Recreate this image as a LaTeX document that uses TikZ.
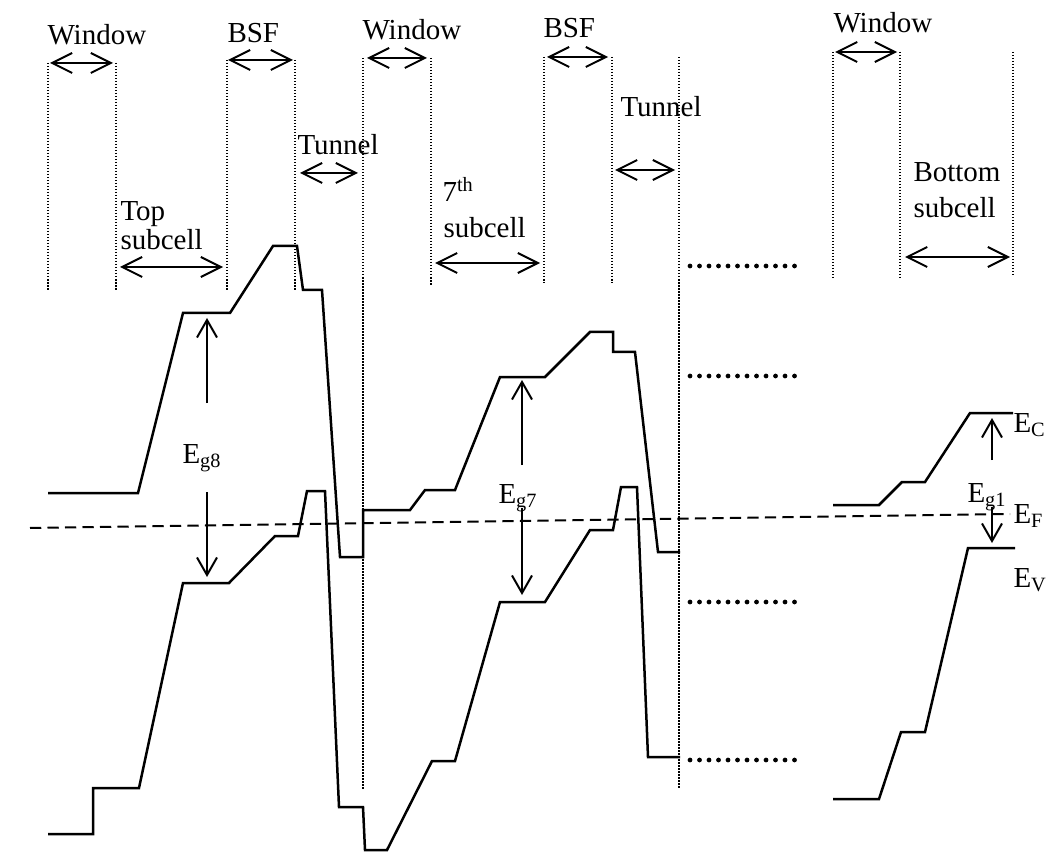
\documentclass[tikz,border=0pt]{standalone}
\usepackage{fontspec}
\setmainfont{Liberation Serif}
\usepackage{tikz}
\usetikzlibrary{arrows.meta}

\begin{document}
\begin{tikzpicture}[x=0.4pt,y=-0.4pt,
  every node/.style={font=\fontsize{11.6}{13}\selectfont,inner sep=0pt},
  band/.style={line width=1pt},
  guide/.style={line width=0.7pt,dash pattern=on 0.6pt off 0.6pt},
  span/.style={{Straight Barb[length=8pt,width=8pt]}-{Straight Barb[length=8pt,width=8pt]},line width=0.8pt},
  gap/.style={-{Straight Barb[length=7pt,width=8pt]},line width=0.8pt},
  etc/.style={line width=1.9pt,dash pattern=on 0pt off 3.8pt,line cap=round}]
\useasboundingbox (0,0) rectangle (1046,852);
% layer boundaries
\draw[guide] (48,63) -- (48,290);
\draw[guide] (116,63) -- (116,290);
\draw[guide] (227,60) -- (227,290);
\draw[guide] (295,60) -- (295,290);
\draw[guide] (363,58) -- (363,790);
\draw[guide] (431,58) -- (431,285);
\draw[guide] (544,57) -- (544,283);
\draw[guide] (612,57) -- (612,283);
\draw[guide] (679,57) -- (679,788);
\draw[guide] (833,52) -- (833,278);
\draw[guide] (900,52) -- (900,278);
\draw[guide] (1013,52) -- (1013,277);
% layer widths
\draw[span] (50,63) -- (113,63);
\draw[span] (228,60) -- (293,60);
\draw[span] (300,173) -- (358,173);
\draw[span] (120,267) -- (223,267);
\draw[span] (367,58) -- (427,58);
\draw[span] (435,263) -- (540,263);
\draw[span] (547,57) -- (608,57);
\draw[span] (615,170) -- (675,170);
\draw[span] (835,52) -- (897,52);
\draw[span] (905,257) -- (1010,257);
\node[anchor=base west] (win8) at (47,45) {Window};
\node[anchor=base west] (bsf8) at (227,43) {BSF};
\node[anchor=base west] (tun8) at (297,155) {Tunnel};
\node[anchor=base west] (top1) at (120,221) {Top};
\node[anchor=base west] (top2) at (120,250) {subcell};
\node[anchor=base west] (win7) at (362,40) {Window};
\node[anchor=base west] (bsf7) at (543,38) {BSF};
\node[anchor=base west] (tun7) at (620,117) {Tunnel};
\node[anchor=base west] (sev1) at (442,202) {7\textsuperscript{th}};
\node[anchor=base west] (sev2) at (443,238) {subcell};
\node[anchor=base west] (win1) at (833,33) {Window};
\node[anchor=base west] (bot1) at (913,182) {Bottom};
\node[anchor=base west] (bot2) at (913,218) {subcell};
% conduction band
\draw[band] (48,493) -- (138,493) -- (183,313) -- (230,313) -- (273,246) -- (297,246)
  -- (303,290) -- (322,290) -- (340,557) -- (363,557) -- (363,510) -- (410,510)
  -- (425,490) -- (455,490) -- (500,377) -- (545,377) -- (590,332) -- (613,332)
  -- (613,352) -- (635,352) -- (658,552) -- (680,552);
\draw[band] (833,505) -- (879,505) -- (902,482) -- (925,482) -- (970,413) -- (1013,413);
% valence band
\draw[band] (48,834) -- (93,834) -- (93,788) -- (139,788) -- (183,583) -- (229,583)
  -- (275,536) -- (298,536) -- (307,491) -- (325,491) -- (339,807) -- (363,807)
  -- (365,850) -- (387,850) -- (432,761) -- (455,761) -- (500,602) -- (545,602)
  -- (590,530) -- (613,530) -- (621,487) -- (637,487) -- (648,757) -- (680,757);
\draw[band] (833,799) -- (879,799) -- (901,732) -- (925,732) -- (968,548) -- (1015,548);
% Fermi level
\draw[line width=0.8pt,dash pattern=on 4.5pt off 2.5pt] (30,528) -- (1010,514);
% omitted subcells
\draw[etc] (690,266) -- (803,266);
\draw[etc] (690,376) -- (803,376);
\draw[etc] (690,602) -- (803,602);
\draw[etc] (690,760) -- (803,760);
% band gaps
\node[anchor=base west] (eg8) at (182,463) {E\textsubscript{g8}};
\draw[gap] (207,403) -- (207,318);
\draw[gap] (207,492) -- (207,577);
\node[anchor=base west] (eg7) at (498,503) {E\textsubscript{g7}};
\draw[gap] (522,465) -- (522,380);
\draw[gap] (522,508) -- (522,595);
\node[anchor=base west] (eg1) at (967,502) {E\textsubscript{g1}};
\draw[gap] (992,460) -- (992,418);
\draw[gap] (992,507) -- (992,543);
\node[anchor=base west] (ec) at (1013,432) {E\textsubscript{C}};
\node[anchor=base west] (ef) at (1013,523) {E\textsubscript{F}};
\node[anchor=base west] (ev) at (1013,587) {E\textsubscript{V}};
\end{tikzpicture}
\end{document}
